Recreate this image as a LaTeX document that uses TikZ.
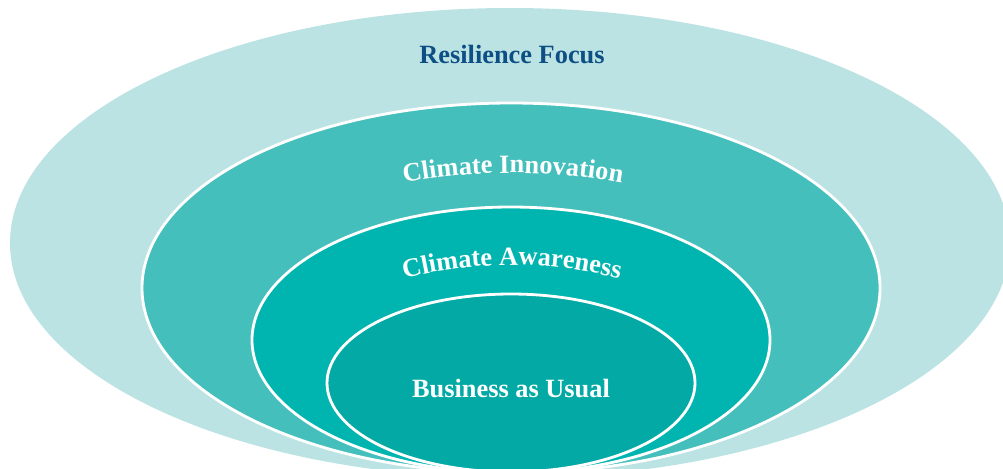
\documentclass[tikz,border=0pt]{standalone}
\usepackage{fontspec}
\usetikzlibrary{decorations.text}
\newfontfamily\labfont{Liberation Serif}[BoldFont={Liberation Serif Bold}]
\definecolor{cOuter}{HTML}{BCE3E4}
\definecolor{cInno}{HTML}{44BFBC}
\definecolor{cAware}{HTML}{00B5B0}
\definecolor{cBau}{HTML}{02A9A5}
\definecolor{cTitle}{HTML}{0D4F85}
\tikzset{
  ring/.style={draw=white, line width=1.6pt},
  lab/.style={font=\labfont\bfseries\fontsize{15}{18}\selectfont, inner sep=0pt},
  arclabel/.style={decorate, decoration={text along path, text align=center, text color=white,
    text={|\labfont\bfseries\fontsize{15}{18}\selectfont|#1}}}
}
\begin{document}
\begin{tikzpicture}[x=0.02cm,y=0.02cm]
\useasboundingbox (0,0) rectangle (1003,468);
\clip (0,0) rectangle (1003,468);
\fill[white] (0,0) rectangle (1003,468);
% outer ellipse
\fill[cOuter] (510,225) ellipse [x radius=500, y radius=235];
\filldraw[fill=cInno, ring] (511,180) ellipse [x radius=369, y radius=185];
\filldraw[fill=cAware, ring] (511,128) ellipse [x radius=259, y radius=133];
\filldraw[fill=cBau, ring] (511,85) ellipse [x radius=184, y radius=89];
% labels
\node[lab, text=cTitle, anchor=base] (res) at (512,405) {Resilience Focus};
\path[arclabel={Climate Innovation}] (513,-305) ++(112:600) arc[start angle=112, end angle=68, radius=600];
\path[arclabel={Climate Awareness}] (512,-227) ++(115:430) arc[start angle=115, end angle=65, radius=430];
\node[lab, text=white, anchor=base] (bau) at (511,71) {Business as Usual};
\end{tikzpicture}
\end{document}
